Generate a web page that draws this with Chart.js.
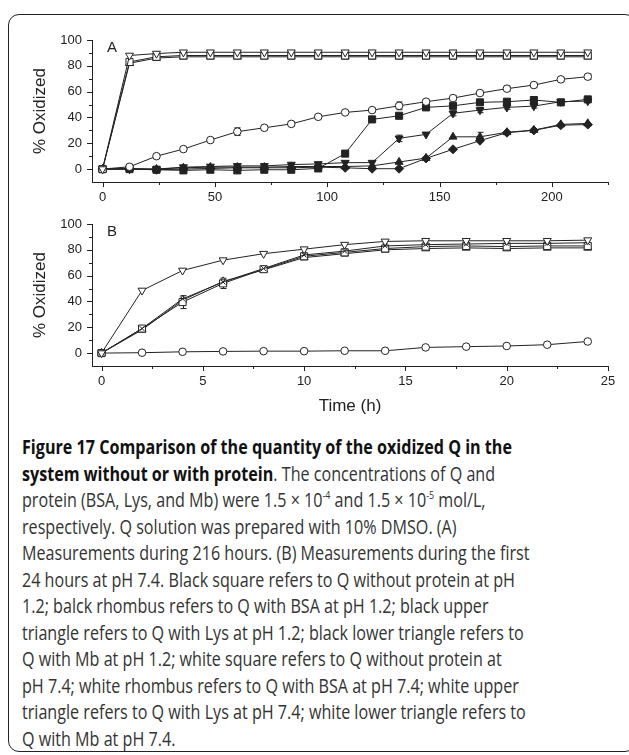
<!DOCTYPE html>
<html>
<head>
<meta charset="utf-8">
<script src="https://cdn.jsdelivr.net/npm/chart.js@4"></script>
<style>
  html, body { margin: 0; padding: 0; background: #fff; }
  body { width: 629px; height: 755px; position: relative; overflow: hidden; }
  .frame {
    position: absolute; left: 8px; top: 14px; width: 626px; height: 736px;
    border: 1.5px solid #222; border-radius: 11px;
  }
  .panel { position: absolute; left: 0; width: 629px; }
  #panelA { top: 0; height: 215px; }
  #panelB { top: 200px; height: 230px; }
  .caption {
    position: absolute; left: 22px; top: 434px;
    font-family: "Open Sans", "Noto Sans", sans-serif; font-size: 20px;
    line-height: 26.5px; color: #333; white-space: nowrap;
    transform-origin: 0 0;
  }
  .caption b { color: #111; }
  .caption sup { font-size: 11px; line-height: 0; vertical-align: 8px; }
</style>
</head>
<body>
<div class="frame"></div>
<div class="panel" id="panelA"><canvas id="chartA"></canvas></div>
<div class="panel" id="panelB"><canvas id="chartB"></canvas></div>
<div class="caption" id="caption">
  <div><span id="firstLine"><b>Figure 17 Comparison of the quantity of the oxidized Q in the</b></span></div>
  <div><b>system without or with protein</b>. The concentrations of Q and</div>
  <div>protein (BSA, Lys, and Mb) were 1.5 × 10<sup>-4</sup> and 1.5 × 10<sup>-5</sup> mol/L,</div>
  <div>respectively. Q solution was prepared with 10% DMSO. (A)</div>
  <div>Measurements during 216 hours. (B) Measurements during the first</div>
  <div>24 hours at pH 7.4. Black square refers to Q without protein at pH</div>
  <div>1.2; balck rhombus refers to Q with BSA at pH 1.2; black upper</div>
  <div>triangle refers to Q with Lys at pH 1.2; black lower triangle refers to</div>
  <div>Q with Mb at pH 1.2; white square refers to Q without protein at</div>
  <div>pH 7.4; white rhombus refers to Q with BSA at pH 7.4; white upper</div>
  <div>triangle refers to Q with Lys at pH 7.4; white lower triangle refers to</div>
  <div>Q with Mb at pH 7.4.</div>
</div>
<script>
// Panel A: sampling times (h), 216 hours
const hoursA = [0, 12, 24, 36, 48, 60, 72, 84, 96, 108, 120, 132, 144, 156, 168, 180, 192, 204, 216];
// pH 1.2 (black markers)
const blackSquareA  = [0, 0, -0.5, -1, -0.5, -1, -0.5, -0.5, 0.5, 12, 38.5, 41.3, 47.8, 49, 51.7, 52.2, 53.5, 51.7, 54];
const blackRhombusA = [0, 0, -0.5, 0, 0.5, 1, 1, 1, 1.5, 1, 0.3, 0.3, 8.3, 15.3, 22, 28.2, 30, 34, 34.5];
const blackUpTriA   = [0, 0.5, 0, 1, 1.5, 1.5, 1.5, 2, 2, 2, 2.5, 5.5, 8.5, 25, 25, 28.5, 30.2, 34.6, 35.4];
const blackDownTriA = [0, 0, 0, 1.5, 2, 2.5, 2.5, 3.5, 4, 5, 5, 23.8, 26.9, 43.2, 45.7, 47.8, 48.8, 52.2, 52.7];
// pH 7.4 (white markers)
const whiteSquareA  = [0, 83, 87, 88, 88, 88, 88, 88, 88, 88, 88, 88, 88, 88, 88, 88, 88, 88, 88];
const whiteRhombusA = [0, 1.8, 10, 15.5, 22.5, 29, 32, 35, 40.5, 43.9, 45.7, 49, 52.2, 55, 58.9, 62.3, 65.1, 69.5, 71.6];
const whiteUpTriA   = [0, 82, 86, 87, 87, 87, 87, 87, 87, 87, 87, 87, 87, 87, 87, 87, 87, 87, 87];
const whiteDownTriA = [0, 88, 89.5, 90.5, 90.5, 90.5, 90.5, 90.5, 90.5, 90.5, 90.5, 90.5, 90.5, 90.5, 90.5, 90.5, 90.5, 90.5, 90.5];
// standard deviations where the bars show
const whiteRhombusErrA = [0, 1, 1, 1.5, 1.5, 3, 1.5, 2, 1.5, 1.5, 1.5, 3, 1.5, 2, 1.5, 2, 1.5, 1.5, 2];
const blackDownTriErrA = [0, 0, 0, 0, 0, 0, 0, 0, 0, 0, 0, 2.5, 0, 2, 2, 1.5, 1.5, 0, 0];
const blackUpTriErrA   = [0, 0, 0, 0, 0, 0, 0, 0, 0, 0, 0, 0, 0, 0, 3.5, 0, 0, 0, 0];

// Panel B: first 24 hours at pH 7.4
const hoursB = [0, 2, 4, 6, 8, 10, 12, 14, 16, 18, 20, 22, 24];
const whiteDownTriB = [0, 48.5, 64, 72, 77, 80.5, 84, 86.5, 87, 87, 87, 87, 87.5];
const whiteCrossB   = [0, 19, 42, 55, 65.5, 76, 79, 83, 84, 84.5, 85, 85, 85.5];
const whiteSquareB  = [0, 19, 39.5, 54, 65, 75, 78, 81, 82.5, 83, 82.5, 83, 83];
const whiteUpTriB   = [0, 18, 41, 55.5, 64.5, 74, 77, 80, 81, 81.5, 81, 81.5, 81.5];
const whiteRhombusB = [0, 0.3, 1, 1.3, 1.5, 1.5, 1.8, 1.8, 4.4, 5, 5.5, 6.5, 9];
const whiteSquareErrB = [0, 1.5, 5, 4, 2, 2, 2.5, 2, 2, 2, 2.5, 2, 2];

// axis ranges and tick spacing
const yRange = [-10, 100];
const yStep = 10, yLabelStep = 20;
const xRangeA = [-4.7, 225], xStepA = 25, xLabelStepA = 50;
const xRangeB = [-0.47, 25], xStepB = 2.5, xLabelStepB = 5;

const ink = '#222';
const tickFont = { family: 'Liberation Sans, Arial, sans-serif', size: 13 };
const titleFont = { family: 'Liberation Sans, Arial, sans-serif', size: 17 };

function series(xs, ys, style, filled, radius, rotation, err) {
  return {
    data: xs.map((x, i) => ({ x: x, y: ys[i] })),
    errors: err || null,
    borderColor: ink,
    borderWidth: 1,
    pointStyle: style,
    pointRadius: radius,
    pointRotation: rotation || 0,
    pointBackgroundColor: filled ? ink : '#fff',
    pointBorderColor: ink,
    pointBorderWidth: 1,
    tension: 0,
    fill: false
  };
}

// vertical error bars with caps, drawn under the markers
const errorBars = {
  id: 'errorBars',
  beforeDatasetsDraw(chart) {
    const { ctx, scales: { x, y } } = chart;
    ctx.save();
    ctx.strokeStyle = ink;
    ctx.lineWidth = 1;
    chart.data.datasets.forEach(ds => {
      if (!ds.errors) return;
      ds.data.forEach((p, i) => {
        const e = ds.errors[i];
        if (!e) return;
        const px = Math.round(x.getPixelForValue(p.x)) + 0.5;
        const top = y.getPixelForValue(p.y + e);
        const bot = y.getPixelForValue(p.y - e);
        ctx.beginPath();
        ctx.moveTo(px, top); ctx.lineTo(px, bot);
        ctx.moveTo(px - 3, top); ctx.lineTo(px + 3, top);
        ctx.moveTo(px - 3, bot); ctx.lineTo(px + 3, bot);
        ctx.stroke();
      });
    });
    ctx.restore();
  }
};

// major ticks get a label and a longer mark, minor ones a short mark
const axisTicks = {
  id: 'axisTicks',
  afterDraw(chart) {
    const { ctx, scales: { x, y } } = chart;
    ctx.save();
    ctx.strokeStyle = ink;
    ctx.lineWidth = 1;
    x.ticks.forEach(t => {
      if (t.value < 0) return;
      const px = Math.round(x.getPixelForValue(t.value)) + 0.5;
      const len = t.label !== '' ? 5 : 3;
      ctx.beginPath();
      ctx.moveTo(px, x.top);
      ctx.lineTo(px, x.top + len);
      ctx.stroke();
    });
    y.ticks.forEach(t => {
      if (t.value === y.min) return;
      const py = Math.round(y.getPixelForValue(t.value)) + 0.5;
      const len = t.label !== '' ? 5 : 3;
      ctx.beginPath();
      ctx.moveTo(y.right, py);
      ctx.lineTo(y.right - len, py);
      ctx.stroke();
    });
    // panel letter
    ctx.fillStyle = ink;
    ctx.font = '15px Liberation Sans, Arial, sans-serif';
    ctx.textBaseline = 'middle';
    ctx.fillText(chart.options.plugins.panelLetter, chart.chartArea.left + 15, chart.chartArea.top + 8);
    ctx.restore();
  }
};

function makeChart(id, datasets, xRange, xStep, xLabelStep, xTitle, padTop, xHeight) {
  return new Chart(document.getElementById(id), {
    type: 'line',
    data: { datasets: datasets },
    options: {
      responsive: true,
      maintainAspectRatio: false,
      animation: false,
      layout: { padding: { top: padTop, right: 21, bottom: 0, left: 0 } },
      plugins: { legend: { display: false }, tooltip: { enabled: false }, panelLetter: id === 'chartA' ? 'A' : 'B' },
      scales: {
        x: {
          type: 'linear',
          min: xRange[0], max: xRange[1],
          grid: { display: false, drawTicks: false },
          border: { display: true, color: ink, width: 1 },
          ticks: {
            stepSize: xStep, includeBounds: false, autoSkip: false, maxRotation: 0,
            padding: 8, color: ink, font: tickFont,
            callback: v => (Math.abs(v % xLabelStep) < 1e-6 ? String(v) : '')
          },
          title: {
            display: !!xTitle, text: xTitle, color: ink, font: titleFont,
            padding: { top: 0, bottom: 13 }
          },
          afterFit: s => { s.height = xHeight; }
        },
        y: {
          min: yRange[0], max: yRange[1],
          grid: { display: false, drawTicks: false },
          border: { display: true, color: ink, width: 1 },
          ticks: {
            stepSize: yStep, includeBounds: false, autoSkip: false,
            padding: 10, color: ink, font: tickFont,
            callback: v => (v % yLabelStep === 0 ? String(v) : '')
          },
          title: {
            display: true, text: '% Oxidized', color: ink, font: titleFont,
            padding: { top: 30, bottom: 0 }
          },
          afterFit: s => { s.width = 92; }
        }
      }
    },
    plugins: [errorBars, axisTicks]
  });
}

makeChart('chartA', [
  series(hoursA, whiteDownTriA, 'triangle', false, 4.6, 180),
  series(hoursA, whiteSquareA, 'rect', false, 5),
  series(hoursA, whiteUpTriA, 'triangle', false, 4.6),
  series(hoursA, whiteRhombusA, 'circle', false, 3.8, 0, whiteRhombusErrA),
  series(hoursA, blackSquareA, 'rect', true, 5),
  series(hoursA, blackDownTriA, 'triangle', true, 4.6, 180, blackDownTriErrA),
  series(hoursA, blackUpTriA, 'triangle', true, 4.6, 0, blackUpTriErrA),
  series(hoursA, blackRhombusA, 'rectRot', true, 4.5)
], xRangeA, xStepA, xLabelStepA, '', 40, 33);

makeChart('chartB', [
  series(hoursB, whiteDownTriB, 'triangle', false, 4.6, 180),
  series(hoursB, whiteCrossB, 'crossRot', false, 3.5),
  series(hoursB, whiteSquareB, 'rect', false, 5, 0, whiteSquareErrB),
  series(hoursB, whiteUpTriB, 'triangle', false, 4.6),
  series(hoursB, whiteRhombusB, 'circle', false, 3.8)
], xRangeB, xStepB, xLabelStepB, 'Time (h)', 24, 64);

// fit the caption's first line to the frame width
const cap = document.getElementById('caption');
const w = document.getElementById('firstLine').getBoundingClientRect().width;
cap.style.transform = 'scaleX(' + (490 / w) + ')';
</script>
</body>
</html>
